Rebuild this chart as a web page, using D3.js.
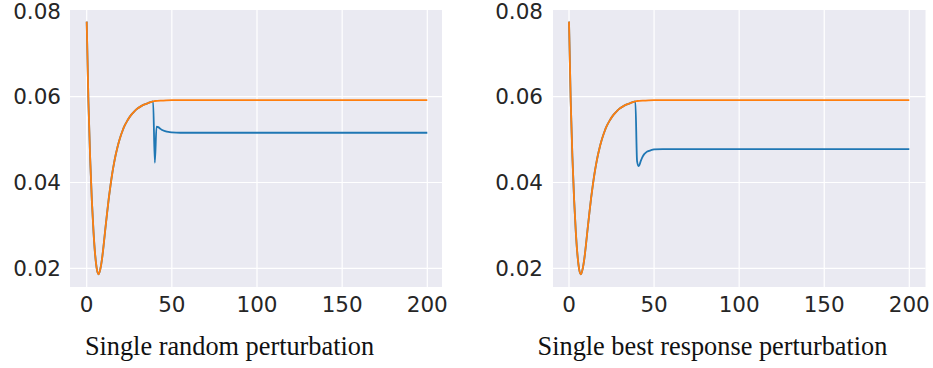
<!DOCTYPE html>
<html>
<head>
<meta charset="utf-8">
<script src="https://cdn.jsdelivr.net/npm/d3@7"></script>
<style>
  body { margin: 0; background: #fff; }
  .tick-label { font-family: "DejaVu Sans", sans-serif; font-size: 21.5px; fill: #262626; }
  .caption { font-family: "Liberation Serif", "Times New Roman", serif; font-size: 26.3px; fill: #111; }
</style>
</head>
<body>
<div class="chart"></div>
<script>
// iteration steps and the unperturbed run (orange)
const steps = [0,1,2,3,4,5,6,7,8,9,10,11,12,13,14,15,16,17,18,19,20,21,22,24,26,28,30,32,34,36,38,39,40,45,50,200];
const baseline = [0.0775,0.0590,0.0460,0.0360,0.0285,0.0230,0.0197,0.0186,0.0198,0.0222,0.0256,0.0294,0.0330,0.0364,0.0394,0.0421,0.0444,0.0464,0.0481,0.0496,0.0509,0.0520,0.0530,0.0545,0.0557,0.0566,0.0573,0.0578,0.0582,0.0585,0.0588,0.0589,0.0590,0.0591,0.0592,0.0592];

// perturbed run (blue) after step 39
const randomSteps = [40,41,42,43,44,46,48,50,55,200];
const randomValues = [0.0446,0.0530,0.0529,0.0526,0.0523,0.0520,0.0518,0.0517,0.0516,0.0516];
const bestSteps = [40,41,42,43,44,45,46,48,50,55,200];
const bestValues = [0.0450,0.0438,0.0448,0.0458,0.0465,0.0469,0.0472,0.0475,0.0477,0.0478,0.0478];

const xTicks = [0, 50, 100, 150, 200];
const yTicks = [0.02, 0.04, 0.06, 0.08];
const captions = ["Single random perturbation", "Single best response perturbation"];

const width = 933, height = 368;
const svg = d3.select(".chart").append("svg")
    .attr("width", width)
    .attr("height", height);

const orangeData = steps.map((s, i) => ({t: s, v: baseline[i]}));
const upTo39 = orangeData.filter(d => d.t <= 39);
const panels = [
  {left: 70, right: 442, x0: 86.7, x200: 427.3, labelX: 61, capX: 229.5,
   blue: upTo39.concat(randomSteps.map((s, i) => ({t: s, v: randomValues[i]})))},
  {left: 553, right: 925.5, x0: 569, x200: 909.3, labelX: 543, capX: 712.5,
   blue: upTo39.concat(bestSteps.map((s, i) => ({t: s, v: bestValues[i]})))}
];

const plotTop = 10, plotBottom = 287;
const y = d3.scaleLinear().domain([0.02, 0.06]).range([268.3, 96.7]);

panels.forEach(function(p, k){
    const x = d3.scaleLinear().domain([0, 200]).range([p.x0, p.x200]);
    const g = svg.append("g");

    g.append("rect")
        .attr("x", p.left).attr("y", plotTop)
        .attr("width", p.right - p.left).attr("height", plotBottom - plotTop)
        .attr("fill", "#eaeaf2");

    g.selectAll("line.vgrid").data(xTicks).enter().append("line")
        .attr("x1", d => x(d)).attr("x2", d => x(d))
        .attr("y1", plotTop).attr("y2", plotBottom)
        .attr("stroke", "#fff").attr("stroke-width", 1.2);

    g.selectAll("line.hgrid").data(yTicks.filter(d => y(d) > plotTop + 1)).enter().append("line")
        .attr("x1", p.left).attr("x2", p.right)
        .attr("y1", d => y(d)).attr("y2", d => y(d))
        .attr("stroke", "#fff").attr("stroke-width", 1.2);

    g.selectAll("text.xt").data(xTicks).enter().append("text")
        .attr("class", "tick-label")
        .attr("x", d => x(d)).attr("y", 312)
        .attr("text-anchor", "middle")
        .text(d => d);

    g.selectAll("text.yt").data(yTicks).enter().append("text")
        .attr("class", "tick-label")
        .attr("x", p.labelX).attr("y", d => y(d))
        .attr("dy", "0.36em")
        .attr("text-anchor", "end")
        .text(d => d.toFixed(2));

    const line = d3.line()
        .x(d => x(d.t))
        .y(d => y(d.v))
        .curve(d3.curveMonotoneX);

    g.append("path")
        .datum(p.blue)
        .attr("d", line)
        .attr("fill", "none")
        .attr("stroke", "#1f77b4")
        .attr("stroke-width", 1.8);

    g.append("path")
        .datum(orangeData)
        .attr("d", line)
        .attr("fill", "none")
        .attr("stroke", "#ff7f0e")
        .attr("stroke-width", 1.8);

    g.append("text")
        .attr("class", "caption")
        .attr("x", p.capX).attr("y", 355)
        .attr("text-anchor", "middle")
        .text(captions[k]);
})
</script>
</body>
</html>
